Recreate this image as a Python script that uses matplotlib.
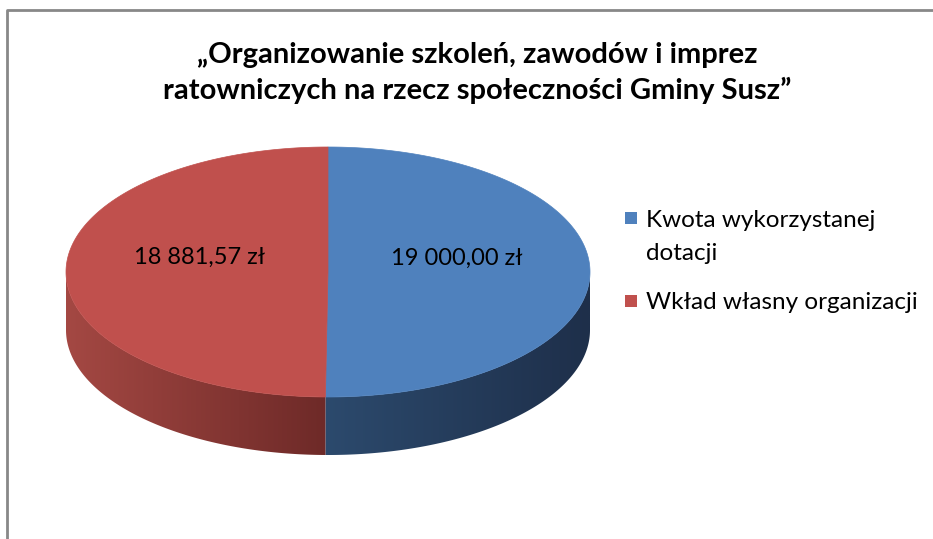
import numpy as np
import matplotlib
matplotlib.use("Agg")
import matplotlib.pyplot as plt
from matplotlib.patches import Polygon, Rectangle
from matplotlib.colors import LinearSegmentedColormap

# ---- data ----
title = "„Organizowanie szkoleń, zawodów i imprez\nratowniczych na rzecz społeczności Gminy Susz”"
categories = ["Kwota wykorzystanej\ndotacji", "Wkład własny organizacji"]
values = [19000.00, 18881.57]
value_labels = ["19 000,00 zł", "18 881,57 zł"]
top_colors = ["#4F81BD", "#C0504D"]
side_colors = [("#2C4A6D", "#1E2F4A"), ("#A44843", "#6E2A28")]

W, H = 933, 539
fig = plt.figure(figsize=(W / 100, H / 100), dpi=100)
ax = fig.add_axes([0, 0, 1, 1])
ax.set_xlim(0, W)
ax.set_ylim(H, 0)
ax.axis("off")

# frame
ax.plot([7, 7, W + 5], [H + 5, 10, 10], color="#888888", lw=2, solid_capstyle="butt")

cx, cy, a, b, depth = 328, 272, 262, 125, 58

def pt(theta, dy=0.0):
    return cx + a * np.cos(theta), cy - b * np.sin(theta) + dy

total = sum(values)
start = np.pi / 2
angles = []
for v in values:
    end = start - 2 * np.pi * v / total
    angles.append((start, end))
    start = end

# sides (front visible part: sin(theta) < 0)
for (t0, t1), (c_a, c_b) in zip(angles, side_colors):
    lo, hi = min(t0, t1), max(t0, t1)
    segs = []
    for k in range(-2, 3):
        f0, f1 = np.pi + 2 * np.pi * k, 2 * np.pi + 2 * np.pi * k
        s0, s1 = max(lo, f0), min(hi, f1)
        if s1 > s0:
            segs.append((s0, s1))
    for s0, s1 in segs:
        th = np.linspace(s0, s1, 200)
        xs, ys = pt(th)
        xb, yb = pt(th[::-1], depth)
        verts = np.column_stack([np.r_[xs, xb], np.r_[ys, yb]])
        poly = Polygon(verts, closed=True, facecolor="none", edgecolor="none")
        ax.add_patch(poly)
        xmin, xmax = verts[:, 0].min(), verts[:, 0].max()
        cmap = LinearSegmentedColormap.from_list("g", [c_a, c_b])
        grad = np.linspace(0, 1, 256)[None, :]
        im = ax.imshow(grad, cmap=cmap, extent=[xmin, xmax, verts[:, 1].max(), verts[:, 1].min()],
                       aspect="auto", interpolation="bilinear", zorder=2)
        im.set_clip_path(poly)

# top faces
for (t0, t1), col in zip(angles, top_colors):
    th = np.linspace(t0, t1, 400)
    xs, ys = pt(th)
    verts = np.column_stack([np.r_[cx, xs], np.r_[cy, ys]])
    ax.add_patch(Polygon(verts, closed=True, facecolor=col, edgecolor=col, lw=0.5, zorder=3))

# value labels
for (t0, t1), lab in zip(angles, value_labels):
    mid = (t0 + t1) / 2
    x = cx + 0.49 * a * np.cos(mid)
    y = cy - 0.49 * b * np.sin(mid) - 14
    ax.text(x, y, lab, ha="center", va="center", fontsize=17, family="Lato", color="black", zorder=5)

# title
ax.text(477, 73, title, ha="center", va="center", fontsize=21, family="Lato", fontweight="bold",
        linespacing=1.38, color="black")

# legend
leg_y = [218, 301]
leg_top = [210, 292]
for col, lab, y, yt in zip(top_colors, categories, leg_y, leg_top):
    ax.add_patch(Rectangle((625, y - 6), 12, 12, facecolor=col, edgecolor="none"))
    ax.text(646, yt, lab, ha="left", va="top", fontsize=17.5, family="Lato", color="black",
            linespacing=1.7)

fig.savefig("out.png", dpi=100, facecolor="white")
